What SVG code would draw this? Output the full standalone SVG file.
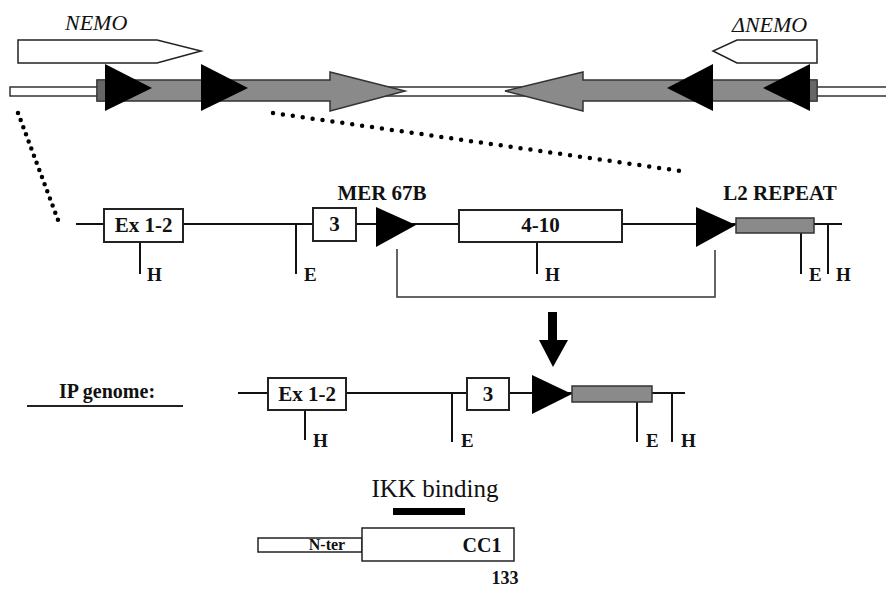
<svg xmlns="http://www.w3.org/2000/svg" width="886" height="593" viewBox="0 0 886 593">
<style>
.bg{fill:#fff}
.lbl{font-family:"Liberation Serif","Times New Roman",serif;font-weight:bold;fill:#111}
.it{font-family:"Liberation Serif","Times New Roman",serif;font-style:italic;fill:#111;font-size:22px}
.box{fill:#fff;stroke:#222;stroke-width:2}
.gray{fill:#8a8a8a;stroke:#333;stroke-width:1.5}
.tri{fill:#000}
.ln{stroke:#111;stroke-width:2;fill:none}
.thin{stroke:#333;stroke-width:1.5;fill:none}
.dot{stroke:#000;stroke-width:4.5;stroke-linecap:round;fill:none}
</style>
<rect class="bg" x="0" y="0" width="886" height="593"/>

<g id="top-locus">
  <rect x="10" y="87" width="890" height="9" fill="#fff" stroke="#333" stroke-width="1.5"/>
  <path class="gray" d="M97,80 H330 V72 L405,91 L330,111 V101 H97 Z"/>
  <path class="gray" d="M817,80 H583 V72 L505,91 L583,111 V101 H817 Z"/>
  <rect x="97" y="80" width="10" height="21" fill="#666" stroke="#333" stroke-width="1"/>
  <rect x="806" y="80" width="11" height="21" fill="#666" stroke="#333" stroke-width="1"/>
  <polygon class="tri" points="105,64 152,88 105,111"/>
  <polygon class="tri" points="201,64 248,88 201,111"/>
  <polygon class="tri" points="713,64 667,88 713,111"/>
  <polygon class="tri" points="810,64 763,88 810,111"/>
</g>

<g id="nemo">
  <polygon points="18,40 157,40 201,51 157,63 18,63" fill="#fff" stroke="#222" stroke-width="1.5"/>
  <text class="it" x="65" y="30">NEMO</text>
</g>
<g id="delta-nemo">
  <polygon points="817,40 737,40 713,51 737,63 817,63" fill="#fff" stroke="#222" stroke-width="1.5"/>
  <text class="it" x="732" y="32">ΔNEMO</text>
</g>

<g id="connectors">
  <line class="dot" x1="18" y1="113" x2="58" y2="220" stroke-dasharray="0 7.6"/>
  <line class="dot" x1="273" y1="113" x2="688" y2="172" stroke-dasharray="0 10"/>
  <polyline class="thin" points="397,249 397,297 715,297 715,250"/>
  <polygon fill="#000" points="548,312 557,312 557,340 568,340 553,367 539,340 548,340"/>
</g>

<g id="wt-locus">
  <line class="ln" x1="76" y1="224" x2="842" y2="224"/>
  <line class="ln" x1="140" y1="242" x2="140" y2="274"/>
  <line class="ln" x1="296" y1="224" x2="296" y2="274"/>
  <line class="ln" x1="537" y1="242" x2="537" y2="274"/>
  <line class="ln" x1="801" y1="233" x2="801" y2="274"/>
  <line class="ln" x1="828" y1="224" x2="828" y2="274"/>
  <text class="lbl" x="147" y="281" font-size="19">H</text>
  <text class="lbl" x="304" y="281" font-size="19">E</text>
  <text class="lbl" x="545" y="281" font-size="19">H</text>
  <text class="lbl" x="809" y="281" font-size="19">E</text>
  <text class="lbl" x="836" y="281" font-size="19">H</text>
</g>
<g id="wt-ex12">
  <rect class="box" x="104" y="209" width="79" height="33"/>
  <text class="lbl" x="143.5" y="232" font-size="21" text-anchor="middle">Ex 1-2</text>
</g>
<g id="wt-ex3">
  <rect class="box" x="313" y="208" width="43" height="33"/>
  <text class="lbl" x="334.5" y="231" font-size="21" text-anchor="middle">3</text>
</g>
<g id="wt-mer1">
  <polygon class="tri" points="376,207 416,225 376,247"/>
  <text class="lbl" x="382" y="200" font-size="21" text-anchor="middle">MER 67B</text>
</g>
<g id="wt-ex410">
  <rect class="box" x="459" y="210" width="163" height="32"/>
  <text class="lbl" x="540.5" y="232" font-size="21" text-anchor="middle">4-10</text>
</g>
<g id="wt-mer2">
  <polygon class="tri" points="696,207 736,225 696,247"/>
</g>
<g id="wt-l2">
  <rect class="gray" x="736" y="218" width="78" height="15"/>
  <text class="lbl" x="780" y="200" font-size="21" text-anchor="middle">L2 REPEAT</text>
</g>

<g id="ip-label">
  <text class="lbl" x="107" y="398" font-size="20" text-anchor="middle">IP genome:</text>
  <line x1="27" y1="406" x2="183" y2="406" stroke="#222" stroke-width="2"/>
</g>
<g id="ip-locus">
  <line class="ln" x1="238" y1="393" x2="685" y2="393"/>
  <line class="ln" x1="305" y1="410" x2="305" y2="440"/>
  <line class="ln" x1="452" y1="393" x2="452" y2="442"/>
  <line class="ln" x1="637" y1="402" x2="637" y2="442"/>
  <line class="ln" x1="672" y1="393" x2="672" y2="442"/>
  <text class="lbl" x="313" y="447" font-size="19">H</text>
  <text class="lbl" x="461" y="447" font-size="19">E</text>
  <text class="lbl" x="646" y="447" font-size="19">E</text>
  <text class="lbl" x="681" y="447" font-size="19">H</text>
</g>
<g id="ip-ex12">
  <rect class="box" x="268" y="378" width="78" height="32"/>
  <text class="lbl" x="307" y="401" font-size="21" text-anchor="middle">Ex 1-2</text>
</g>
<g id="ip-ex3">
  <rect class="box" x="467" y="378" width="42" height="32"/>
  <text class="lbl" x="488" y="401" font-size="21" text-anchor="middle">3</text>
</g>
<g id="ip-mer">
  <polygon class="tri" points="532,375 572,394 532,414"/>
</g>
<g id="ip-l2">
  <rect class="gray" x="572" y="386" width="80" height="16"/>
</g>

<g id="protein">
  <text x="435" y="497" font-family="Liberation Serif, Times New Roman, serif" font-size="25" fill="#111" text-anchor="middle">IKK binding</text>
  <rect x="393" y="508" width="72" height="7" fill="#000"/>
  <rect x="258" y="538" width="104" height="14" fill="#fff" stroke="#222" stroke-width="1.5"/>
  <rect x="362" y="528" width="152" height="33" fill="#fff" stroke="#222" stroke-width="1.5"/>
  <text class="lbl" x="327" y="550" font-size="16" text-anchor="middle">N-ter</text>
  <text class="lbl" x="482" y="552" font-size="20" text-anchor="middle">CC1</text>
  <text class="lbl" x="505" y="584" font-size="18" text-anchor="middle">133</text>
</g>
</svg>
